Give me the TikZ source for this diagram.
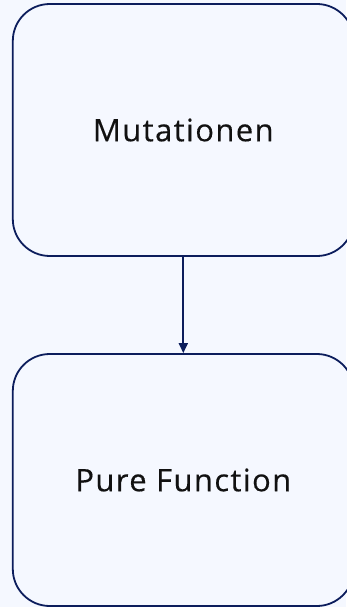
\documentclass[tikz,border=0pt]{standalone}
\usepackage{fontspec}
\setmainfont{Open Sans}
\usetikzlibrary{arrows.meta}
\definecolor{bg}{HTML}{F5F8FF}
\definecolor{navy}{HTML}{0C1D5C}
\definecolor{ink}{HTML}{111111}
\begin{document}
\begin{tikzpicture}[x=1pt,y=-1pt,
  box/.style={draw=navy,line width=1.8pt,fill=bg,rounded corners=37pt,
    minimum width=341pt,minimum height=252pt,inner sep=0pt,text=ink,
    font=\fontsize{31}{37}\selectfont\addfontfeatures{LetterSpace=4.5,FakeBold=0.35}},
  conn/.style={draw=navy,line width=1.8pt,-{Triangle[length=10pt,width=9pt]}}]
\fill[bg] (0,0) rectangle (346,607);
\useasboundingbox (0,0) rectangle (346,607);
\node[box] (m) at (183.3,130) {Mutationen};
\node[box] (p) at (183.3,480) {Pure Function};
\draw[conn] (m.south) -- (p.north);
\end{tikzpicture}
\end{document}
